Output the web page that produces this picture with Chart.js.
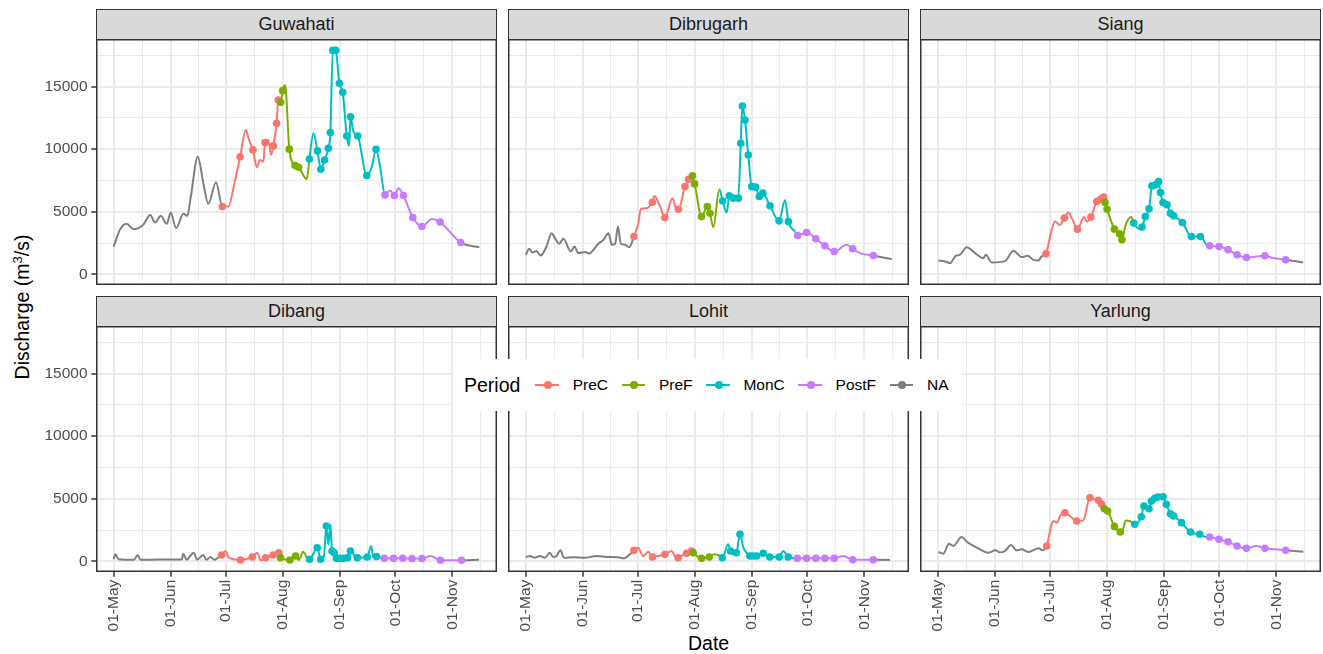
<!DOCTYPE html>
<html>
<head>
<meta charset="utf-8">
<script src="https://cdn.jsdelivr.net/npm/chart.js@4.4.1/dist/chart.umd.min.js"></script>
<style>
  body { margin: 0; background: #fff; font-family: 'Liberation Sans', Arial, sans-serif; }
  #wrap { position: relative; width: 1323px; height: 654px; overflow: hidden; background: #fff; }
  canvas { position: absolute; }
  .strip { position: absolute; background: #d9d9d9; border: 1.5px solid #333; box-sizing: border-box;
           font-size: 18px; color: #1a1a1a; text-align: center; line-height: 28px; }
  .title { position: absolute; font-size: 19.5px; color: #000; white-space: nowrap; }
  #legend { position: absolute; left: 453px; top: 359px; width: 509px; height: 52px; background: #fff;
            display: flex; align-items: center; box-sizing: border-box; padding-left: 11px; }
  #legend .head { font-size: 19.5px; margin-right: 15px; }
  #legend .key { position: relative; width: 25px; height: 18px; margin-right: 13.5px; }
  #legend .key .ln { position: absolute; left: 0; right: 0; top: 8px; height: 2px; }
  #legend .key .pt { position: absolute; left: 8.5px; top: 5px; width: 8px; height: 8px; border-radius: 50%; }
  #legend .lab { font-size: 15.5px; margin-right: 13.5px; }
</style>
</head>
<body>
<div id="wrap">
  <div class="title" style="left:688px; top:632px;">Date</div>
  <div class="title" style="left:22px; top:307px; transform: translate(-50%,-50%) rotate(-90deg);">Discharge (m<sup style="font-size:13px">3</sup>/s)</div>
</div>
<script>
// day index: 0 = 01-May
const panelNames = ['Guwahati', 'Dibrugarh', 'Siang', 'Dibang', 'Lohit', 'Yarlung'];
const periodNames = ['PreC', 'PreF', 'MonC', 'PostF', 'NA'];
const periodColors = ['#F8766D', '#7CAE00', '#00BFC4', '#C77CFF', '#7F7F7F'];
const periodStart = [58.5, 90.3, 106, 147, 190]; // PreC, PreF, MonC, PostF, then NA again
const monthTicks = [0, 31, 61, 92, 123, 153, 184];
const monthLabels = ['01-May', '01-Jun', '01-Jul', '01-Aug', '01-Sep', '01-Oct', '01-Nov'];
const minorX = [15.5, 46, 76.5, 107.5, 138, 168.5, 199.5];
const yTicks = [0, 5000, 10000, 15000];
const minorY = [2500, 7500, 12500, 17500];

const guwahatiDay = [0,3.5,7,10.7,16,19.8,22.5,25.6,28.8,31,33.9,37.9,40,41.9,45.7,48.7,51.4,55.6,
  59,62.3,65.6,68.7,71.8,73.2,75.6,77.8,79.5,81.3,82.2,84,85.5,86.7,88.5,89.4,90.7,91.8,93.1,95.4,
  98.5,100.4,104.9,106.3,108.5,110.7,112.5,114.5,116.6,117.7,119,120.6,122.6,124.4,126.6,127.9,128.6,130.2,132.6,137.5,
  140.2,142.5,144.7,147.4,150.1,152.5,154.7,157.4,162.5,167.4,172.8,177.3,188.5,198.6];
const guwahatiQ = [2230,3600,4050,3620,3960,4750,4150,4680,4040,4940,3700,4840,4680,6220,9400,7290,5640,7360,
  5420,5420,7290,9400,11530,10870,9940,8560,9140,9010,10520,10740,9540,10260,12070,13920,13740,14670,15120,10000,
  8700,8560,7600,9220,11270,9860,8400,9140,10070,11320,17880,17880,15250,14540,11050,10260,12590,11400,11050,7890,
  8610,9990,8610,6350,6700,6300,6890,6300,4540,3830,4420,4180,2550,2180];
const guwahatiObs = [0,0,0,0,0,0,0,0,0,0,0,0,0,0,0,0,0,0,
  1,0,0,1,0,0,1,0,0,0,1,0,0,1,1,1,1,1,0,1,
  1,1,0,1,0,1,1,1,1,1,1,1,1,1,1,0,1,0,1,1,
  0,1,0,1,0,1,0,1,1,1,0,1,1,0];

const dibrugarhDay = [0.1,1.9,3.7,5.9,8.1,11.3,14.1,15.9,18.2,20.5,24.5,26.5,28.6,32.3,34.6,36.8,39.5,42.3,45,46.8,
  48.6,50.1,51.7,54,56.2,
  58.8,61.2,62.5,65.7,68.8,69.9,73,75.6,79.7,81.6,83,86.5,88.5,90.6,91.8,95.5,98.7,100.1,101.9,105.2,
  107,109.2,110.6,112.8,115.5,116.8,117.7,119.1,120.9,122.8,124.9,126.9,128.8,132.7,137.6,140.9,142.7,146.3,147.7,152.6,
  157.6,162.5,167.6,174.3,177.6,181.5,188.8,198.8];
const dibrugarhQ = [1570,2050,1750,1870,1510,2230,3300,2900,2450,2850,1830,2230,1710,1790,1670,1970,2450,2770,3300,2370,
  2450,3830,2450,2370,2180,
  3030,4100,5210,5290,5770,6270,5420,4540,6090,5290,5210,7010,7600,7870,7230,4620,5420,4890,3780,6810,
  5870,4940,6270,6090,6090,10470,13450,12330,9540,7010,6970,6220,6490,5480,4280,5950,4220,3430,3110,3350,
  2850,2290,1830,2370,2050,1710,1510,1230];
const dibrugarhObs = [0,0,0,0,0,0,0,0,0,0,0,0,0,0,0,0,0,0,0,0,0,0,0,0,0,
  1,0,0,0,1,0,0,1,0,0,1,1,1,1,1,1,1,1,0,0,
  1,0,1,1,1,1,1,1,1,1,1,1,1,1,1,0,1,0,1,1,
  1,1,1,0,1,0,1,0];

const siangDay = [0.4,4,6.7,9.8,12.1,15.8,20.3,24.8,26.1,29.3,36.6,41.1,45.6,48.9,52,54.7,56.5,
  58.8,61.5,63.7,66.4,68.8,71,73.3,75.9,79.5,81,83.2,86.4,88.6,90.1,90.9,92,96,98.8,100.1,102.1,
  105.2,106.5,109.7,111,112.8,114.8,116.4,118.3,120,121,122.4,124.6,126.4,128.2,132.9,137.8,142.7,146,147.7,152.8,
  157.7,162.6,167.7,173.2,177.7,182.2,189,198.5];
const siangQ = [1120,1040,910,1490,1570,2180,1710,1310,1570,960,1070,1890,1390,1490,1170,1120,1440,
  1650,3300,4220,3960,4500,4940,4360,3620,4580,4220,4580,5820,6010,6170,5740,5210,3620,3240,2770,3960,
  4580,4100,3620,3780,4620,5240,7070,7150,7410,6540,5740,5560,4890,4680,4150,3030,3030,2370,2290,2230,
  1970,1570,1360,1440,1490,1310,1170,960];
const siangObs = [0,0,0,0,0,0,0,0,0,0,0,0,0,0,0,0,0,
  1,0,0,0,1,0,0,1,0,0,1,1,1,1,1,1,1,1,1,0,
  0,1,0,1,1,1,1,1,1,1,1,1,1,1,1,1,1,0,1,1,
  1,1,1,0,1,0,1,0];

const dibangDay = [0,0.9,2.7,10.9,13.1,14.5,25,37,37.8,39.6,43.5,45.3,48.6,50.4,52.6,54.8,56.6,
  58.6,60.7,62.5,68.9,75.3,78,79.8,82.5,86.6,89.7,90.6,95.7,98.8,100.6,102.9,105,106.4,110.6,112.4,114.2,
  115.5,116.6,117.7,118.6,119.8,121,123,125,127,128.6,132.3,137.7,139.9,141,142.7,147,152,157,162,167.4,
  172.2,177.5,188.9,198.4];
const dibangQ = [175,570,175,130,520,130,150,150,620,150,700,150,520,130,360,130,300,
  520,840,300,120,360,700,100,300,520,700,300,120,440,120,780,300,175,1100,175,400,
  2830,1370,2960,840,700,250,250,250,300,840,300,360,1240,300,400,250,250,250,230,230,
  440,100,100,130];
const dibangObs = [0,0,0,0,0,0,0,0,0,0,0,0,0,0,0,0,0,
  1,0,0,1,1,0,0,1,1,1,1,1,1,0,0,0,1,1,1,0,
  1,0,0,1,1,1,1,1,1,1,1,1,0,0,1,1,1,1,1,1,
  0,1,1,0];

const lohitDay = [0.1,2.3,5,7.7,10.4,13.1,14.9,16.7,18.9,20.8,26,32,38.7,44.1,50,53.2,56.6,
  58.8,61.1,63.8,66.6,68.9,72,75.6,79.2,81,82.8,85.5,87.4,90.1,91,95.5,99.7,102.2,104.6,106.8,110,
  111.3,113.1,114.5,116.4,118.2,120,121.8,123.5,125.4,129,132.6,137.7,139.9,142.6,147.5,152.6,157.6,162.5,167.6,172.5,
  177.6,188.8,197.9];
const lohitQ = [360,440,300,440,300,700,360,440,890,300,330,300,440,360,330,250,570,
  890,1100,440,780,360,440,570,840,440,300,520,650,840,700,250,360,570,520,300,1370,
  840,570,700,2170,1100,700,440,440,440,650,360,360,840,360,250,250,250,250,250,440,
  130,130,130];
const lohitObs = [0,0,0,0,0,0,0,0,0,0,0,0,0,0,0,0,0,
  1,0,0,0,1,0,1,0,0,1,0,1,1,1,1,1,0,0,1,0,
  1,0,1,1,0,0,1,1,1,1,1,1,0,1,1,1,1,1,1,0,
  1,1,0];

const yarlungDay = [0.4,3.1,6.1,8.5,13,15.8,18.5,23,27.5,31.2,33.9,36.6,39.8,42.9,45.6,49.2,52.8,55,56.8,
  59.2,61.9,63.2,64.6,67,69.1,71.8,75.5,79.1,82.7,85.4,87.3,89.1,90.5,92.3,96,99.2,100.3,102.1,104.3,
  107,110.6,112,114.8,116.1,117.9,119.7,122.4,124.2,126.4,128.2,132.4,137.3,142.3,146,147.7,152.8,157.7,162.6,167.7,
  173.2,177.7,183.1,189,198.6];
const yarlungQ = [760,620,1420,1240,1950,1580,1320,970,700,890,730,840,1320,890,970,760,970,1050,890,
  1240,2970,3230,3100,3760,3890,3630,3230,3280,5090,4950,4880,4560,4210,4030,2800,2350,2430,3280,3230,
  2970,3570,4420,4210,4820,5040,5140,5170,4560,3810,3630,3100,2350,2170,1950,1950,1770,1580,1240,1050,
  1240,1050,970,890,780];
const yarlungObs = [0,0,0,0,0,0,0,0,0,0,0,0,0,0,0,0,0,0,0,
  1,0,0,0,0,1,0,1,0,1,0,1,1,1,1,1,1,0,0,0,
  1,1,1,1,1,1,1,1,1,1,1,1,1,1,0,1,1,1,1,1,
  0,1,0,1,0];

const series = [
  [guwahatiDay, guwahatiQ, guwahatiObs],
  [dibrugarhDay, dibrugarhQ, dibrugarhObs],
  [siangDay, siangQ, siangObs],
  [dibangDay, dibangQ, dibangObs],
  [lohitDay, lohitQ, lohitObs],
  [yarlungDay, yarlungQ, yarlungObs]
];

function periodIndex(d) {
  for (let i = 0; i < 4; i++) {
    if (d >= periodStart[i] && d < periodStart[i + 1]) return i;
  }
  return 4;
}
function periodColor(d) { return periodColors[periodIndex(d)]; }

const colLeft = [96, 508, 920], panelW = 401;
const rowTop = [39, 326], panelH = 246;
const xMin = -9.6, xMax = 208.2, yMin = -838, yMax = 18790;

const panelBorder = {
  id: 'panelBorder',
  afterDraw(chart) {
    const a = chart.chartArea, c = chart.ctx;
    c.save();
    c.strokeStyle = '#333';
    c.lineWidth = 1.5;
    c.strokeRect(a.left + 0.75, a.top + 0.75, a.right - a.left - 1.5, a.bottom - a.top - 1.5);
    c.restore();
  }
};

// keep the plot area at a fixed size: no extra room for overhanging labels
function noPad(s) {
  s.paddingLeft = 0; s.paddingRight = 0; s.paddingTop = 0; s.paddingBottom = 0;
}

const wrap = document.getElementById('wrap');

panelNames.forEach((name, i) => {
  const col = i % 3, row = Math.floor(i / 3);
  const showY = col === 0, showX = row === 1;
  const yW = showY ? 60 : 0, xH = showX ? 62 : 0;

  const strip = document.createElement('div');
  strip.className = 'strip';
  strip.style.left = colLeft[col] + 'px';
  strip.style.top = (rowTop[row] - 30) + 'px';
  strip.style.width = panelW + 'px';
  strip.style.height = '31px';
  strip.textContent = name;
  wrap.appendChild(strip);

  const cv = document.createElement('canvas');
  cv.width = panelW + yW;
  cv.height = panelH + xH;
  cv.style.left = (colLeft[col] - yW) + 'px';
  cv.style.top = rowTop[row] + 'px';
  wrap.appendChild(cv);

  const [days, q, obs] = series[i];
  const line = days.map((d, k) => ({ x: d, y: q[k] }));
  const pts = line.filter((p, k) => obs[k] === 1);

  new Chart(cv, {
    type: 'line',
    data: {
      datasets: [
        {
          data: pts, showLine: false, pointRadius: 3.8, pointBorderWidth: 0,
          pointBackgroundColor: ctx => periodColor(ctx.raw.x)
        },
        {
          data: line, pointRadius: 0, borderWidth: 2, borderColor: '#7F7F7F',
          cubicInterpolationMode: 'monotone',
          segment: { borderColor: ctx => periodColor((ctx.p0.parsed.x + ctx.p1.parsed.x) / 2) }
        }
      ]
    },
    options: {
      responsive: false, animation: false, events: [],
      layout: { padding: 0, autoPadding: false },
      plugins: { legend: { display: false }, tooltip: { enabled: false } },
      scales: {
        x: {
          type: 'linear', min: xMin, max: xMax,
          afterBuildTicks: s => { s.ticks = monthTicks.concat(minorX).sort((a, b) => a - b).map(v => ({ value: v })); },
          afterFit: s => { s.height = xH; noPad(s); },
          border: { display: false },
          grid: {
            color: '#EBEBEB',
            lineWidth: ctx => minorX.includes(ctx.tick.value) ? 1 : 2,
            drawTicks: showX, tickLength: 4.7, tickWidth: 1.5,
            tickColor: ctx => minorX.includes(ctx.tick.value) ? 'rgba(0,0,0,0)' : '#333'
          },
          ticks: {
            display: showX, autoSkip: false, maxRotation: 90, minRotation: 90, padding: 3,
            color: '#4D4D4D', font: { family: 'Liberation Sans', size: 15.5 },
            callback: v => { const k = monthTicks.indexOf(v); return k >= 0 ? monthLabels[k] : ''; }
          }
        },
        y: {
          type: 'linear', min: yMin, max: yMax,
          afterBuildTicks: s => { s.ticks = yTicks.concat(minorY).sort((a, b) => a - b).map(v => ({ value: v })); },
          afterFit: s => { s.width = yW; noPad(s); },
          border: { display: false },
          grid: {
            color: '#EBEBEB',
            lineWidth: ctx => minorY.includes(ctx.tick.value) ? 1 : 2,
            drawTicks: showY, tickLength: 4.7, tickWidth: 1.5,
            tickColor: ctx => minorY.includes(ctx.tick.value) ? 'rgba(0,0,0,0)' : '#333'
          },
          ticks: {
            display: showY, autoSkip: false, padding: 3.7,
            color: '#4D4D4D', font: { family: 'Liberation Sans', size: 15.5 },
            callback: v => yTicks.includes(v) ? String(v) : ''
          }
        }
      }
    },
    plugins: [panelBorder]
  });
});

// legend
const lg = document.createElement('div');
lg.id = 'legend';
let html = '<span class="head">Period</span>';
periodNames.forEach((p, k) => {
  html += '<span class="key"><span class="ln" style="background:' + periodColors[k] + '"></span>' +
          '<span class="pt" style="background:' + periodColors[k] + '"></span></span>' +
          '<span class="lab">' + p + '</span>';
});
lg.innerHTML = html;
wrap.appendChild(lg);
</script>
</body>
</html>
